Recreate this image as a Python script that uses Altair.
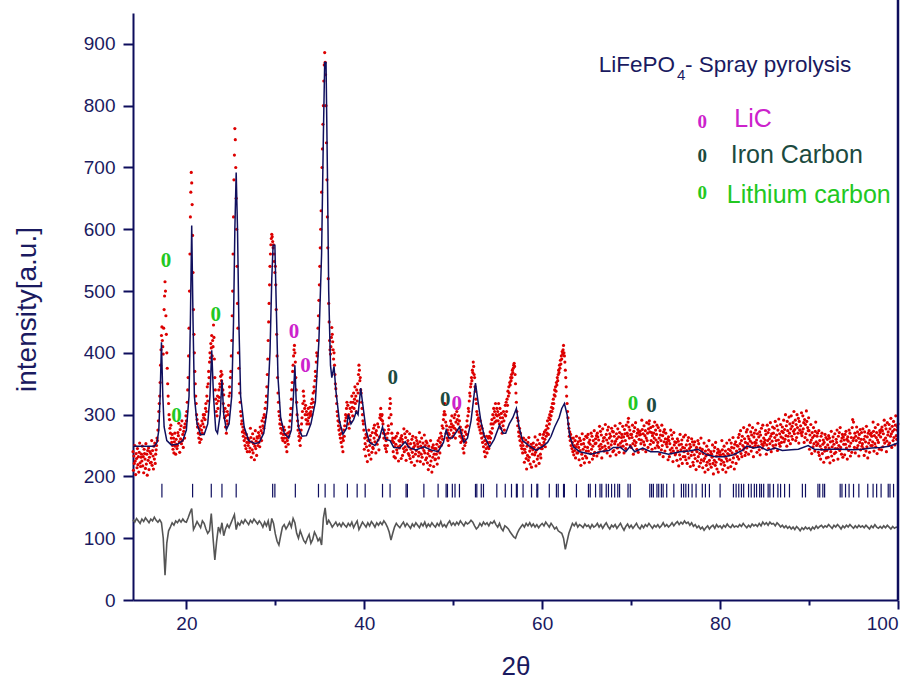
import altair as alt
import pandas as pd

# ---------------- data ----------------
# observed intensities: one row per degree of 2theta, 20 points per row (step 0.05)
obs_step = 0.05
obs_low_start = 14
obs_low_rows = [
    [240, 210, 233, 221, 250, 225, 203, 237, 229, 214, 245, 219, 232, 207, 239, 254, 222, 216, 231, 236],
    [225, 249, 217, 232, 206, 244, 237, 228, 213, 253, 220, 236, 202, 242, 226, 246, 211, 231, 240, 222],
    [237, 223, 258, 218, 242, 233, 212, 249, 228, 254, 221, 236, 243, 250, 262, 258, 275, 290, 305, 318],
    [330, 352, 380, 405, 428, 442, 420, 410, 398, 440, 470, 492, 515, 500, 460, 430, 400, 375, 350, 330],
    [318, 300, 292, 278, 270, 283, 262, 255, 268, 250, 244, 262, 238, 256, 270, 249, 236, 260, 252, 245],
    [250, 271, 266, 286, 256, 239, 276, 261, 282, 253, 290, 258, 268, 247, 273, 279, 262, 285, 280, 298],
    [290, 305, 320, 340, 360, 395, 440, 500, 560, 620, 660, 692, 675, 640, 590, 530, 470, 430, 400, 370],
    [350, 330, 318, 300, 292, 280, 285, 270, 262, 278, 255, 268, 282, 260, 275, 290, 270, 285, 300, 295],
    [280, 300, 292, 310, 318, 305, 330, 345, 322, 350, 370, 360, 385, 400, 392, 415, 408, 428, 395, 420],
    [410, 445, 425, 390, 360, 340, 325, 305, 318, 298, 330, 310, 322, 340, 328, 350, 345, 362, 370, 355],
    [365, 350, 340, 318, 332, 305, 295, 310, 280, 298, 270, 290, 305, 285, 300, 315, 330, 345, 335, 360],
    [370, 395, 420, 460, 500, 560, 620, 680, 720, 763, 745, 700, 650, 600, 540, 480, 440, 400, 375, 350],
    [335, 320, 305, 298, 285, 290, 272, 280, 265, 275, 258, 270, 250, 262, 245, 268, 255, 240, 262, 250],
    [260, 255, 240, 246, 278, 263, 231, 256, 243, 269, 238, 253, 261, 227, 249, 274, 245, 257, 234, 264],
    [262, 250, 271, 255, 266, 248, 280, 262, 274, 258, 290, 270, 282, 295, 278, 300, 288, 310, 296, 320],
    [330, 345, 365, 390, 420, 450, 480, 510, 540, 560, 575, 585, 592, 588, 580, 570, 575, 560, 548, 530],
    [540, 510, 470, 430, 395, 360, 335, 320, 305, 298, 285, 292, 278, 270, 284, 262, 275, 258, 268, 280],
    [262, 275, 255, 268, 248, 262, 240, 258, 270, 252, 265, 280, 272, 290, 300, 310, 325, 340, 352, 370],
    [380, 395, 405, 412, 400, 385, 360, 340, 320, 300, 290, 275, 282, 265, 258, 270, 250, 262, 275, 285],
    [295, 305, 318, 338, 330, 322, 310, 300, 315, 292, 305, 285, 300, 290, 310, 295, 285, 302, 312, 298],
    [305, 318, 300, 325, 312, 335, 320, 345, 338, 355, 370, 362, 385, 400, 395, 420, 440, 460, 485, 510],
    [540, 570, 600, 630, 660, 700, 730, 770, 800, 840, 866, 886, 870, 850, 800, 740, 680, 620, 570, 520],
    [480, 450, 420, 405, 398, 410, 425, 441, 430, 418, 405, 390, 400, 380, 365, 350, 342, 330, 318, 305],
    [298, 290, 282, 275, 288, 268, 262, 278, 255, 270, 248, 262, 240, 258, 275, 265, 282, 290, 300, 295],
    [310, 320, 298, 315, 285, 300, 278, 295, 310, 288, 320, 305, 330, 312, 298, 320, 335, 310, 325, 345],
    [318, 330, 305, 340, 322, 350, 335, 365, 380, 372, 355, 360, 340, 335, 320, 310, 300, 290, 285, 275],
]
obs_mid_start = 40
obs_mid_rows = [
    [244, 262, 253, 233, 268, 248, 264, 224, 258, 242, 275, 235, 250, 259, 266, 228, 254, 239, 271, 247],
    [245, 278, 262, 283, 256, 270, 238, 274, 267, 252, 285, 259, 280, 243, 264, 295, 300, 310, 292, 298],
    [300, 290, 285, 270, 262, 275, 250, 268, 245, 258, 240, 262, 250, 270, 282, 276, 295, 310, 326, 318],
    [300, 285, 270, 258, 262, 240, 255, 232, 248, 262, 230, 252, 265, 243, 238, 270, 248, 225, 258, 246],
    [257, 250, 262, 229, 266, 260, 234, 255, 245, 277, 240, 269, 248, 263, 226, 243, 273, 253, 258, 237],
    [248, 234, 269, 229, 253, 244, 223, 260, 239, 265, 232, 247, 254, 218, 250, 236, 263, 242, 258, 225],
    [253, 248, 233, 239, 271, 256, 224, 249, 236, 262, 231, 246, 254, 220, 242, 267, 238, 250, 227, 257],
    [230, 254, 222, 237, 211, 249, 242, 233, 218, 258, 225, 241, 207, 247, 231, 251, 216, 236, 245, 227],
    [228, 245, 236, 252, 220, 241, 258, 230, 248, 262, 238, 255, 270, 250, 265, 282, 260, 278, 292, 300],
    [305, 318, 300, 288, 270, 282, 262, 275, 258, 270, 250, 268, 280, 262, 290, 275, 285, 298, 280, 265],
    [282, 270, 295, 278, 300, 262, 288, 275, 305, 292, 310, 285, 298, 272, 290, 265, 280, 255, 270, 262],
    [275, 258, 245, 265, 238, 260, 250, 272, 255, 280, 268, 290, 282, 298, 310, 305, 322, 335, 330, 345],
    [350, 360, 355, 372, 368, 385, 378, 365, 360, 345, 338, 325, 318, 305, 300, 292, 285, 295, 280, 290],
    [275, 290, 270, 282, 262, 278, 255, 270, 248, 265, 240, 258, 232, 252, 245, 265, 238, 255, 248, 262],
    [245, 265, 255, 272, 262, 285, 270, 292, 278, 300, 285, 310, 295, 305, 288, 318, 300, 290, 310, 298],
    [305, 290, 318, 300, 285, 310, 295, 278, 302, 288, 270, 295, 282, 305, 290, 275, 300, 315, 298, 320],
    [305, 325, 315, 338, 330, 345, 335, 352, 348, 360, 355, 365, 360, 372, 368, 375, 380, 383, 378, 365],
    [350, 335, 320, 305, 295, 282, 290, 272, 265, 278, 258, 270, 250, 262, 245, 255, 238, 250, 262, 244],
    [223, 244, 239, 259, 229, 212, 249, 234, 255, 226, 263, 231, 241, 220, 246, 252, 215, 248, 236, 243],
    [254, 224, 247, 235, 264, 239, 217, 251, 243, 228, 259, 233, 246, 221, 253, 268, 236, 230, 245, 250],
    [245, 262, 250, 268, 255, 272, 260, 248, 275, 265, 282, 270, 290, 278, 268, 295, 285, 300, 292, 305],
    [298, 312, 305, 318, 310, 325, 318, 332, 340, 330, 345, 338, 352, 348, 360, 355, 365, 372, 368, 380],
    [375, 388, 382, 395, 390, 402, 398, 405, 412, 400, 395, 385, 372, 360, 345, 330, 318, 305, 295, 285],
    [278, 265, 272, 258, 268, 250, 262, 245, 255, 240, 262, 235, 250, 242, 258, 230, 248, 265, 238, 252],
    [238, 256, 247, 227, 262, 242, 258, 218, 252, 236, 269, 229, 244, 253, 260, 222, 248, 233, 265, 241],
    [230, 263, 247, 268, 241, 255, 223, 259, 252, 237, 270, 244, 265, 228, 249, 258, 234, 274, 239, 253],
    [261, 254, 266, 233, 270, 264, 238, 259, 249, 281, 244, 273, 252, 267, 230, 247, 277, 257, 262, 241],
    [263, 249, 284, 244, 268, 259, 238, 275, 254, 280, 247, 262, 269, 233, 265, 251, 278, 257, 273, 240],
    [272, 242, 265, 253, 282, 257, 235, 269, 261, 246, 277, 251, 264, 239, 271, 286, 254, 248, 263, 268],
    [257, 281, 249, 264, 238, 276, 269, 258, 245, 283, 252, 270, 266, 288, 294, 280, 262, 275, 250, 268],
]
obs_high_start = 70
obs_high_rows = [
    [247, 268, 263, 283, 253, 236, 273, 258, 279, 250, 287, 255, 265, 244, 270, 276, 239, 272, 260, 267],
    [273, 268, 253, 259, 291, 276, 244, 269, 256, 282, 251, 266, 274, 240, 262, 287, 258, 270, 247, 277],
    [285, 290, 272, 252, 279, 258, 271, 244, 266, 281, 255, 270, 262, 288, 246, 275, 259, 268, 283, 250],
    [255, 279, 247, 262, 236, 274, 267, 258, 243, 283, 250, 266, 232, 272, 256, 276, 241, 261, 270, 252],
    [255, 248, 260, 227, 264, 258, 232, 253, 243, 275, 238, 267, 246, 261, 224, 241, 271, 251, 256, 235],
    [237, 255, 246, 226, 261, 241, 257, 217, 251, 235, 268, 228, 243, 252, 259, 221, 247, 232, 264, 240],
    [246, 232, 267, 227, 251, 242, 221, 258, 237, 263, 230, 245, 252, 216, 248, 234, 261, 240, 256, 223],
    [218, 251, 235, 256, 229, 243, 211, 247, 240, 225, 258, 232, 253, 216, 237, 246, 222, 262, 227, 241],
    [244, 214, 237, 225, 254, 229, 207, 241, 233, 218, 249, 223, 236, 211, 243, 258, 226, 220, 235, 240],
    [215, 236, 231, 251, 221, 204, 241, 226, 247, 218, 255, 223, 233, 212, 238, 244, 207, 240, 228, 235],
    [240, 235, 220, 226, 258, 243, 211, 236, 223, 249, 218, 233, 241, 207, 229, 254, 225, 237, 214, 244],
    [235, 259, 227, 242, 216, 254, 247, 238, 223, 263, 230, 246, 212, 252, 236, 256, 221, 241, 250, 232],
    [249, 263, 228, 268, 244, 253, 274, 237, 258, 232, 265, 250, 243, 279, 247, 261, 234, 255, 239, 272],
    [246, 276, 253, 265, 236, 261, 283, 249, 257, 272, 241, 267, 254, 279, 247, 232, 264, 270, 255, 250],
    [275, 254, 259, 239, 269, 286, 249, 264, 243, 272, 235, 267, 257, 278, 252, 246, 283, 250, 262, 255],
    [254, 259, 274, 268, 236, 251, 283, 258, 271, 245, 276, 261, 253, 287, 265, 240, 269, 257, 280, 250],
    [270, 246, 278, 263, 289, 251, 258, 267, 282, 242, 275, 259, 293, 253, 269, 249, 284, 264, 255, 273],
    [280, 262, 271, 291, 256, 276, 260, 300, 266, 282, 249, 289, 274, 265, 258, 296, 270, 285, 253, 277],
    [298, 265, 281, 260, 287, 273, 305, 269, 276, 291, 258, 284, 263, 300, 279, 270, 294, 254, 289, 275],
    [275, 282, 270, 303, 266, 272, 298, 277, 287, 255, 292, 263, 284, 269, 306, 289, 259, 279, 274, 295],
    [274, 244, 267, 255, 284, 259, 237, 271, 263, 248, 279, 253, 266, 241, 273, 288, 256, 250, 265, 270],
    [253, 239, 274, 234, 258, 249, 228, 265, 244, 270, 237, 252, 259, 223, 255, 241, 268, 247, 263, 230],
    [242, 260, 251, 231, 266, 246, 262, 222, 256, 240, 273, 233, 248, 257, 264, 226, 252, 237, 269, 245],
    [239, 260, 255, 275, 245, 228, 265, 250, 271, 242, 279, 247, 257, 236, 262, 268, 231, 264, 252, 259],
    [235, 268, 252, 273, 246, 260, 228, 264, 257, 242, 275, 249, 270, 233, 254, 263, 239, 279, 292, 258],
    [288, 262, 247, 270, 238, 265, 258, 280, 246, 272, 250, 262, 233, 268, 255, 276, 243, 260, 271, 249],
    [253, 277, 245, 260, 234, 272, 265, 256, 241, 281, 248, 264, 230, 270, 254, 274, 239, 259, 268, 250],
    [270, 265, 250, 256, 288, 273, 241, 266, 253, 279, 248, 263, 271, 237, 259, 284, 255, 267, 244, 274],
    [271, 264, 276, 243, 280, 274, 248, 269, 259, 291, 254, 283, 262, 277, 240, 257, 287, 267, 272, 251],
    [284, 254, 277, 265, 294, 269, 247, 281, 273, 258, 289, 263, 276, 251, 283, 298, 266, 260, 275, 280],
    [285],
]

# calculated profile (2theta, intensity)
calc_tt = [
    14.0, 16.4, 16.7, 16.9, 17.05, 17.2, 17.35, 17.5, 17.8, 18.3, 19.0, 19.6, 20.0,
    20.3, 20.45, 20.6, 20.75, 20.9, 21.2, 21.6, 22.0, 22.4, 22.65, 22.85, 23.05,
    23.3, 23.5, 23.8, 24.0, 24.2, 24.5, 24.8, 25.1, 25.3, 25.45, 25.6, 25.75, 25.9,
    26.1, 26.5, 27.0, 27.7, 28.2, 28.7, 29.1, 29.4, 29.6, 29.75, 29.95, 30.1, 30.3,
    30.6, 31.0, 31.5, 31.8, 32.0, 32.2, 32.35, 32.6, 33.0, 33.5, 34.0, 34.5, 34.9,
    35.2, 35.4, 35.55, 35.7, 35.85, 36.0, 36.2, 36.35, 36.6, 36.8, 37.2, 37.6, 38.0,
    38.2, 38.5, 38.8, 39.1, 39.3, 39.6, 39.8, 40.2, 40.6, 41.2, 41.7, 42.05, 42.4,
    42.9, 43.3, 44.0, 44.6, 45.0, 45.8, 46.7, 47.5, 48.3, 48.9, 49.2, 49.5, 49.9,
    50.7, 51.2, 51.6, 52.0, 52.5, 52.8, 53.1, 53.5, 54.1, 54.6, 55.2, 55.6, 55.9,
    56.3, 56.7, 57.1, 57.4, 57.8, 58.5, 59.3, 60.0, 60.6, 61.0, 61.4, 61.9, 62.2,
    62.5, 62.8, 63.1, 63.5, 64.2, 65.5, 66.5, 67.5, 68.0, 68.8, 69.4, 69.9, 70.4,
    71.3, 72.2, 73.0, 74.2, 75.5, 76.5, 77.5, 78.5, 79.5, 80.5, 81.5, 82.5, 83.0,
    83.8, 84.5, 85.3, 86.2, 87.0, 88.0, 88.8, 89.9, 90.6, 91.5, 92.5, 93.5, 95.0,
    96.0, 97.0, 98.0, 99.0, 100.0,
]
calc_int = [
    249, 249, 255, 275, 330, 417, 330, 280, 258, 251, 252, 258, 275,
    330, 450, 606, 450, 330, 285, 268, 268, 285, 330, 404, 330,
    275, 270, 300, 356, 300, 276, 285, 330, 450, 600, 692, 600, 450,
    330, 280, 258, 253, 255, 270, 310, 400, 520, 574, 574, 480, 360,
    295, 270, 262, 275, 320, 380, 320, 280, 265, 266, 285, 320, 420,
    560, 750, 870, 870, 700, 500, 380, 360, 378, 340, 290, 268, 278,
    300, 285, 292, 305, 300, 343, 320, 275, 255, 250, 262, 280, 260,
    258, 247, 246, 256, 247, 243, 248, 243, 240, 255, 275, 262, 262,
    280, 255, 262, 290, 351, 320, 290, 265, 248, 260, 283, 270, 270,
    285, 295, 310, 280, 258, 250, 242, 248, 255, 265, 280, 295, 310,
    318, 300, 265, 248, 240, 236, 240, 242, 247, 247, 240, 249, 240,
    246, 240, 240, 236, 240, 241, 244, 235, 232, 232, 235, 242, 249,
    246, 248, 242, 246, 242, 243, 244, 250, 244, 243, 244, 244, 243,
    244, 246, 247, 249, 254,
]

# difference curve (offset), 2theta grid from 14.0 in steps of 0.2
diff_start = 14.0
diff_step = 0.2
diff_vals = [
    130, 126, 132, 128, 124, 131, 127, 133, 129, 125,
    131, 128, 134, 129, 126, 130, 125, 100, 40, 92,
    112, 118, 125, 121, 128, 125, 130, 126, 131, 127,
    126, 133, 141, 148, 114, 120, 127, 122, 117, 128,
    124, 115, 108, 112, 140, 100, 65, 95, 118, 110,
    125, 104, 115, 122, 117, 124, 131, 138, 114, 125,
    121, 128, 124, 130, 126, 122, 129, 125, 131, 127,
    123, 128, 124, 118, 126, 120, 128, 112, 132, 124,
    107, 95, 89, 104, 118, 122, 115, 120, 126, 118,
    132, 125, 108, 100, 112, 104, 96, 92, 100, 106,
    92, 98, 110, 104, 96, 100, 89, 132, 149, 122,
    129, 124, 118, 122, 126, 120, 124, 119, 125, 121,
    118, 124, 120, 126, 117, 123, 128, 114, 120, 126,
    122, 118, 125, 120, 127, 123, 118, 125, 121, 126,
    122, 128, 124, 118, 110, 97, 108, 118, 124, 120,
    117, 122, 126, 119, 124, 120, 116, 123, 119, 125,
    121, 117, 124, 120, 126, 118, 123, 119, 125, 121,
    118, 124, 120, 127, 119, 122, 118, 124, 128, 121,
    125, 121, 126, 122, 128, 124, 120, 126, 123, 125,
    129, 126, 120, 115, 118, 124, 120, 126, 122, 125,
    120, 126, 124, 128, 122, 118, 124, 116, 112, 120,
    118, 115, 110, 106, 102, 100, 108, 114, 118, 122,
    118, 124, 120, 125, 119, 123, 118, 122, 117, 121,
    124, 120, 126, 122, 118, 124, 120, 115, 118, 112,
    110, 108, 100, 82, 95, 108, 116, 124, 120, 125,
    118, 122, 120, 117, 123, 119, 121, 116, 122, 118,
    120, 124, 118, 122, 116, 121, 125, 119, 115, 121,
    118, 122, 116, 120, 124, 118, 113, 119, 123, 117,
    121, 116, 120, 124, 118, 115, 121, 117, 122, 119,
    124, 120, 116, 121, 118, 122, 117, 120, 125, 119,
    122, 118, 121, 125, 120, 124, 127, 122, 126, 123,
    128, 124, 126, 121, 125, 119, 122, 117, 120, 115,
    118, 113, 117, 120, 115, 119, 121, 116, 122, 118,
    120, 116, 121, 118, 123, 119, 117, 122, 118, 120,
    118, 122, 119, 124, 120, 117, 121, 118, 123, 120,
    122, 119, 124, 120, 126, 122, 125, 121, 126, 123,
    124, 120, 125, 122, 118, 121, 117, 120, 116, 119,
    115, 118, 114, 119, 116, 112, 117, 114, 118, 115,
    117, 113, 118, 115, 120, 116, 119, 121, 117, 120,
    118, 122, 119, 116, 121, 118, 122, 119, 115, 120,
    117, 121, 118, 122, 119, 116, 120, 117, 121, 118,
    120, 117, 121, 118, 115, 120, 117, 122, 118, 116,
    119, 116, 120, 117, 121, 118, 115, 119, 116, 118,
    117,
]

# Bragg reflection positions
bragg_tt = [
    17.25, 20.7, 22.8, 24.0, 25.6, 29.7, 29.95, 32.25, 34.85, 35.6, 36.6, 38.1,
    39.2, 40.1, 42.05, 42.9, 44.7, 44.85, 46.7, 48.3, 49.2, 49.35, 49.9, 50.2,
    50.7, 52.5, 52.65, 53.15, 53.4, 54.9, 55.85, 56.55, 57.1, 57.2, 57.85, 58.8,
    59.4, 59.5, 60.8, 61.6, 61.8, 62.4, 62.5, 63.85, 65.2, 65.4, 66.0, 66.5,
    66.7, 67.2, 67.45, 67.8, 68.15, 68.5, 68.7, 69.65, 69.9, 72.1, 72.3, 72.5,
    72.9, 73.1, 73.4, 73.6, 74.0, 74.8, 75.65, 75.9, 76.15, 76.45, 76.85, 77.3,
    78.0, 78.35, 78.8, 80.0, 81.5, 81.8, 82.1, 82.4, 82.65, 83.2, 83.5, 83.85,
    84.1, 84.45, 84.65, 84.9, 85.4, 85.6, 86.0, 86.5, 86.8, 87.25, 87.8, 89.25,
    89.6, 91.0, 91.2, 91.55, 91.75, 93.5, 93.7, 94.1, 94.5, 95.0, 95.6, 96.6,
    97.2, 97.6, 98.1, 98.9, 99.1, 99.5,
]
bragg_lo = 166
bragg_hi = 188

# phase markers "0" above peaks
ann_tt = [17.7, 18.9, 23.3, 32.1, 33.4, 43.2, 49.1, 50.4, 70.2, 72.3]
ann_int = [548, 297, 462, 433, 378, 360, 323, 318, 317, 314]
ann_phase = ["Lithium carbon", "Lithium carbon", "Lithium carbon", "LiC", "LiC",
             "Iron Carbon", "Iron Carbon", "LiC", "Lithium carbon", "Iron Carbon"]

phases = ["LiC", "Iron Carbon", "Lithium carbon"]
phase_colors = ["#cc22cc", "#1c4a40", "#22c822"]

# legend block
leg_mark_tt = [78.0, 78.0, 78.0]
leg_mark_int = [774, 718, 658]
leg_text_tt = [81.6, 81.2, 80.75]
leg_text_int = [765, 708, 642]

NAVY = "#0d0d5c"
TXT = "#1a1a60"

# ---------------- tables ----------------
obs_tt, obs_I = [], []
for start, rows in ((obs_low_start, obs_low_rows), (obs_mid_start, obs_mid_rows),
                    (obs_high_start, obs_high_rows)):
    for r, row in enumerate(rows):
        for j, v in enumerate(row):
            obs_tt.append(round(start + r + j * obs_step, 3))
            obs_I.append(v)
obs_df = pd.DataFrame({"tt": obs_tt, "I": obs_I})
calc_df = pd.DataFrame({"tt": calc_tt, "I": calc_int})
diff_df = pd.DataFrame({
    "tt": [round(diff_start + i * diff_step, 2) for i in range(len(diff_vals))],
    "I": diff_vals,
})
bragg_df = pd.DataFrame({"tt": bragg_tt, "lo": [bragg_lo] * len(bragg_tt),
                         "hi": [bragg_hi] * len(bragg_tt)})
ann_df = pd.DataFrame({"tt": ann_tt, "I": ann_int, "phase": ann_phase, "txt": ["0"] * len(ann_tt)})
leg_mark_df = pd.DataFrame({"tt": leg_mark_tt, "I": leg_mark_int, "phase": phases, "txt": ["0"] * 3})
leg_text_df = pd.DataFrame({"tt": leg_text_tt, "I": leg_text_int, "phase": phases})

color_scale = alt.Scale(domain=phases, range=phase_colors)

x_axis = alt.Axis(
    values=[20, 30, 40, 50, 60, 70, 80, 90, 100],
    labelExpr="datum.value % 20 == 0 ? datum.label : ''",
    tickSize={"condition": {"test": "datum.value % 20 == 0", "value": 9}, "value": 5},
    title="2θ", titleFont="Liberation Sans", titleFontSize=26, titleFontWeight="normal",
    titleColor=TXT, titleY=66, titleBaseline="middle",
    labelFont="Liberation Sans", labelFontSize=19, labelColor=TXT, labelPadding=5,
    domainColor=NAVY, domainWidth=2, tickColor=NAVY, tickWidth=2, grid=False,
)
y_axis = alt.Axis(
    values=list(range(0, 901, 50)),
    labelExpr="datum.value % 100 == 0 ? datum.label : ''",
    tickSize={"condition": {"test": "datum.value % 100 == 0", "value": 10}, "value": 6},
    title="intensity[a.u.]", titleFont="Liberation Sans", titleFontSize=28,
    titleFontWeight="normal", titleColor=TXT, titleX=-106, titleY=296,
    titleAngle=-90, titleBaseline="middle", titleAlign="center",
    labelFont="Liberation Sans", labelFontSize=19, labelColor=TXT, labelPadding=8,
    domainColor=NAVY, domainWidth=2, tickColor=NAVY, tickWidth=2, grid=False,
)

X = alt.X("tt:Q", scale=alt.Scale(domain=[14, 100], nice=False, zero=False), axis=x_axis)
Y = alt.Y("I:Q", scale=alt.Scale(domain=[0, 950], nice=False, zero=False), axis=y_axis)

obs_layer = alt.Chart(obs_df).mark_circle(size=10, color="#dd0000", opacity=1).encode(x=X, y=Y)
calc_layer = alt.Chart(calc_df).mark_line(color="#10105e", strokeWidth=1.5).encode(
    x=alt.X("tt:Q"), y=alt.Y("I:Q"))
diff_layer = alt.Chart(diff_df).mark_line(color="#555555", strokeWidth=1.6).encode(
    x=alt.X("tt:Q"), y=alt.Y("I:Q"))
bragg_layer = alt.Chart(bragg_df).mark_rule(color="#101060", strokeWidth=1.2).encode(
    x=alt.X("tt:Q"), y=alt.Y("lo:Q"), y2="hi:Q")

ann_layer = alt.Chart(ann_df).mark_text(
    font="Liberation Serif", fontSize=21, fontWeight="bold", baseline="middle", align="center"
).encode(x="tt:Q", y="I:Q", text="txt:N",
         color=alt.Color("phase:N", scale=color_scale, legend=None))
leg_mark_layer = alt.Chart(leg_mark_df).mark_text(
    font="Liberation Serif", fontSize=19, fontWeight="bold", baseline="middle", align="center"
).encode(x="tt:Q", y="I:Q", text="txt:N",
         color=alt.Color("phase:N", scale=color_scale, legend=None))
leg_text_layer = alt.Chart(leg_text_df).mark_text(
    font="Liberation Sans", fontSize=25, baseline="alphabetic", align="left"
).encode(x="tt:Q", y="I:Q", text="phase:N",
         color=alt.Color("phase:N", scale=color_scale, legend=None))

title_df = pd.DataFrame({"tt": [66.36, 75.15, 76.05], "I": [854, 841, 854],
                         "txt": ["LiFePO", "4", "- Spray pyrolysis"], "fs": [22.5, 15, 22.5]})
title_layer = alt.Chart(title_df).mark_text(
    font="Liberation Sans", baseline="alphabetic", align="left", color=TXT
).encode(x="tt:Q", y="I:Q", text="txt:N", size=alt.Size("fs:Q", scale=None, legend=None))

right_df = pd.DataFrame({"tt": [100], "lo": [0], "hi": [971]})
right_layer = alt.Chart(right_df).mark_rule(color=NAVY, strokeWidth=2.5).encode(
    x="tt:Q", y="lo:Q", y2="hi:Q")

chart = alt.layer(
    obs_layer, calc_layer, bragg_layer, diff_layer, ann_layer,
    leg_mark_layer, leg_text_layer, title_layer, right_layer
).properties(
    width=765, height=587,
    autosize=alt.AutoSizeParams(type="none"),
    padding={"left": 133, "top": 13, "right": 21, "bottom": 80},
    background="white",
).configure_view(stroke=None)

chart.save("out.html", embed_options={"renderer": "svg", "actions": False})
